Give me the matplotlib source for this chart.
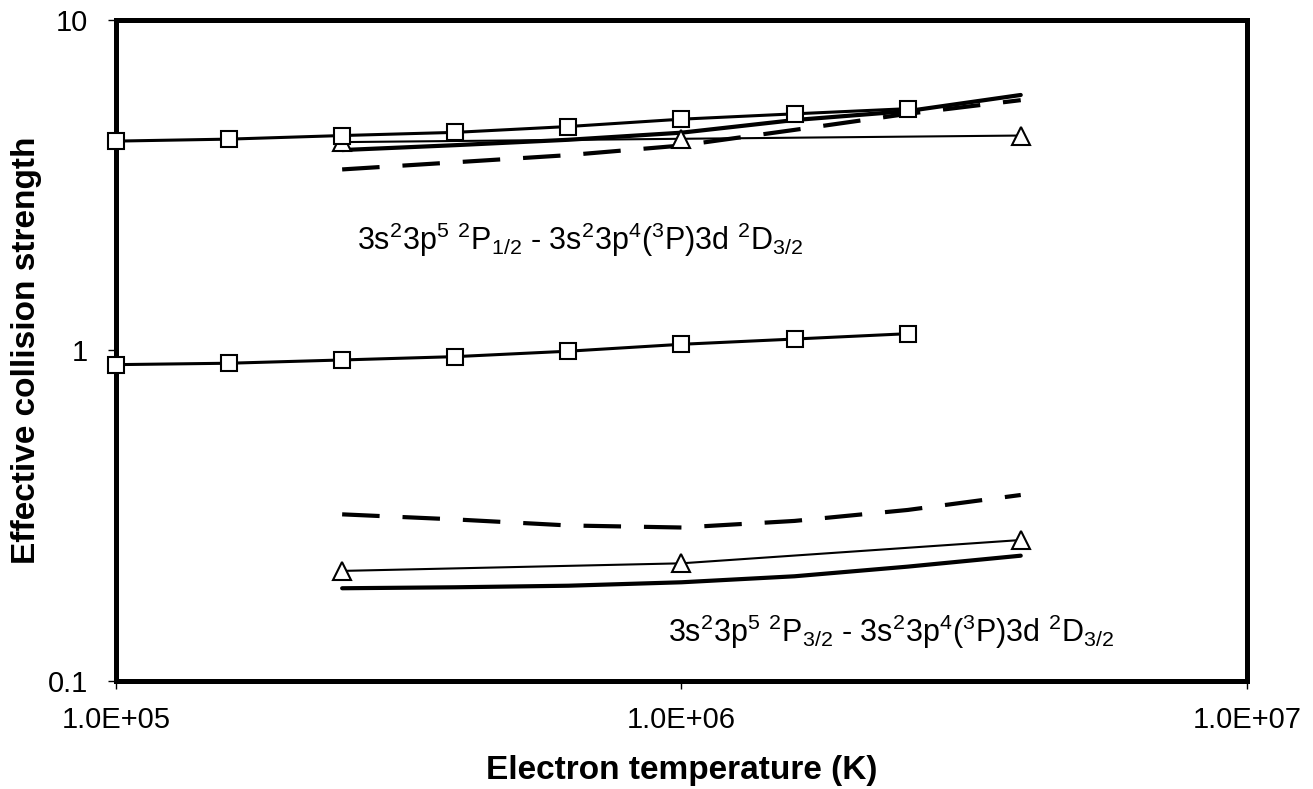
import matplotlib
matplotlib.use("Agg")
import matplotlib.pyplot as plt
from matplotlib.ticker import FixedLocator, FixedFormatter, NullLocator

plt.rcParams['font.family'] = ['Liberation Sans', 'DejaVu Sans']
plt.rcParams['mathtext.fontset'] = 'custom'
plt.rcParams['mathtext.rm'] = 'Liberation Sans'
plt.rcParams['mathtext.it'] = 'Liberation Sans:italic'
plt.rcParams['mathtext.bf'] = 'Liberation Sans:bold'

# temperature grid (K)
temp_sq = [1.0e5, 1.585e5, 2.512e5, 3.981e5, 6.310e5, 1.0e6, 1.585e6, 2.512e6]
temp_tri = [2.512e5, 1.0e6, 3.981e6]
temp_line = [2.512e5, 3.981e5, 6.310e5, 1.0e6, 1.585e6, 2.512e6, 3.981e6]

# 2P1/2 - 2D3/2 transition
up_sq = [4.30, 4.36, 4.47, 4.57, 4.76, 5.01, 5.20, 5.39]
up_tri = [4.27, 4.37, 4.47]
up_thick = [4.04, 4.18, 4.34, 4.56, 4.98, 5.30, 5.93]
up_dash = [3.53, 3.71, 3.90, 4.17, 4.65, 5.20, 5.72]

# 2P3/2 - 2D3/2 transition
mid_sq = [0.906, 0.915, 0.936, 0.958, 0.995, 1.044, 1.083, 1.124]
lo_tri = [0.2153, 0.2270, 0.267]
lo_thick = [0.1908, 0.1921, 0.1942, 0.1989, 0.2074, 0.2218, 0.2394]
lo_dash = [0.3193, 0.3082, 0.2955, 0.2913, 0.305, 0.3292, 0.3654]

fig = plt.figure(figsize=(13.13, 7.89), dpi=100)
ax = fig.add_axes([0.0883, 0.1369, 0.8614, 0.8378])
ax.set_xscale('log')
ax.set_yscale('log')
ax.set_xlim(1e5, 1e7)
ax.set_ylim(0.1, 10)

sq = dict(marker='s', markersize=12, markerfacecolor='white',
          markeredgecolor='black', markeredgewidth=1.5, color='black',
          linewidth=2.2, clip_on=False, zorder=5)
tri = dict(marker='^', markersize=13, markerfacecolor='white',
           markeredgecolor='black', markeredgewidth=1.5, color='black',
           linewidth=1.5, clip_on=False, zorder=4)
thick = dict(color='black', linewidth=3.0, solid_capstyle='round', zorder=3)
dash = dict(color='black', linewidth=3.0, dashes=(9, 5.5), zorder=3)

ax.plot(temp_line, up_thick, **thick)
ax.plot(temp_line, up_dash, **dash)
ax.plot(temp_tri, up_tri, **tri)
ax.plot(temp_sq, up_sq, **sq)

ax.plot(temp_sq, mid_sq, **sq)

ax.plot(temp_line, lo_thick, **thick)
ax.plot(temp_line, lo_dash, **dash)
ax.plot(temp_tri, lo_tri, **tri)

ax.text(2.67e5, 2.16, r'3s$^2$3p$^5$ $^2$P$_{1/2}$ - 3s$^2$3p$^4$($^3$P)3d $^2$D$_{3/2}$',
        fontsize=22, va='center', ha='left')
ax.text(9.47e5, 0.1406, r'3s$^2$3p$^5$ $^2$P$_{3/2}$ - 3s$^2$3p$^4$($^3$P)3d $^2$D$_{3/2}$',
        fontsize=22, va='center', ha='left')

ax.xaxis.set_major_locator(FixedLocator([1e5, 1e6, 1e7]))
ax.xaxis.set_major_formatter(FixedFormatter(['1.0E+05', '1.0E+06', '1.0E+07']))
ax.xaxis.set_minor_locator(NullLocator())
ax.yaxis.set_major_locator(FixedLocator([0.1, 1, 10]))
ax.yaxis.set_major_formatter(FixedFormatter(['0.1', '1', '10']))
ax.yaxis.set_minor_locator(NullLocator())
ax.tick_params(direction='out', length=6, width=1, labelsize=21)
ax.tick_params(axis='x', pad=12)
ax.tick_params(axis='y', pad=14)

for s in ax.spines.values():
    s.set_linewidth(3.6)

ax.set_xlabel('Electron temperature (K)', fontsize=24, fontweight='bold', labelpad=15)
ax.set_ylabel('Effective collision strength', fontsize=24, fontweight='bold', labelpad=4)

fig.savefig('out.png', dpi=100)
